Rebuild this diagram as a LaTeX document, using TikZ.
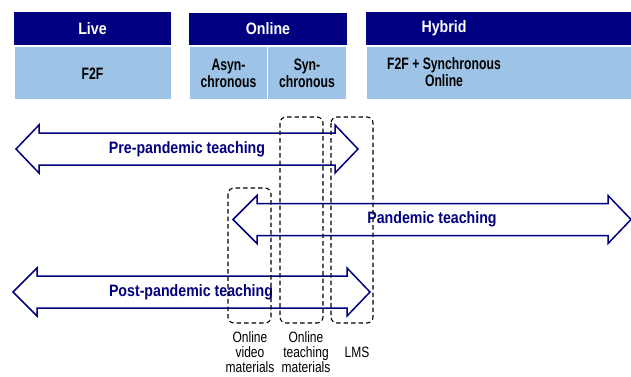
\documentclass[tikz,border=0pt]{standalone}
\usepackage{fontspec}
\setmainfont{Liberation Sans}
\newfontfamily\hfont[FakeStretch=0.86]{Liberation Sans}
\newfontfamily\bfont[FakeStretch=0.74]{Liberation Sans}
\newfontfamily\lfont[FakeStretch=0.8]{Liberation Sans}
\begin{document}
\begin{tikzpicture}[x=1pt,y=-1pt,
  hdr/.style={fill=navyc,draw=none},
  bodybox/.style={fill=lightb,draw=white,line width=0.8pt},
  hdrtext/.style={text=white,font=\hfont\fontsize{16.5}{18}\selectfont\bfseries,inner sep=0pt},
  bodytext/.style={text=black,font=\bfont\fontsize{16.5}{17}\selectfont\bfseries,align=center,inner sep=0pt},
  arrowline/.style={draw=navyc,fill=white,line width=1.5pt,line join=miter},
  arrowtext/.style={text=navyc,font=\hfont\fontsize{16.5}{18}\selectfont\bfseries,inner sep=0pt},
  dashbox/.style={draw=black,line width=1.1pt,dash pattern=on 4.5pt off 3pt,rounded corners=6pt},
  lbl/.style={font=\lfont\fontsize{15}{15}\selectfont,align=center,inner sep=0pt,anchor=north}
]
\definecolor{navyc}{RGB}{0,0,128}
\definecolor{lightb}{RGB}{157,195,230}
\useasboundingbox (0,0) rectangle (631,376);
% headers
\fill[hdr] (14,12) rectangle (171,45);
\node[hdrtext] (live) at (92.5,28.5) {Live};
\fill[hdr] (189,13) rectangle (347,45);
\node[hdrtext] (online) at (268,28.5) {Online};
\fill[hdr] (366,12) rectangle (631,45);
\node[hdrtext] (hybrid) at (444,28.5) {Hybrid};
% bodies
\draw[bodybox] (14,46.5) rectangle (171,99.5);
\node[bodytext] (f2f) at (92.5,74) {F2F};
\draw[bodybox] (189.5,46.5) rectangle (267.5,99.5);
\node[bodytext] (async) at (228.5,73) {Asyn-\\chronous};
\draw[bodybox] (267.5,46.5) rectangle (346.5,99.5);
\node[bodytext] (sync) at (307,73) {Syn-\\chronous};
\draw[bodybox] (366.5,46.5) rectangle (632,99.5);
\node[bodytext] (hyb) at (444,72) {F2F + Synchronous\\Online};
% arrows
\newcommand{\dblarr}[5]{%
  \draw[arrowline] (#1,#5) -- (#3,#5-24) -- (#3,#5-16) -- (#4,#5-16) -- (#4,#5-24)
    -- (#2,#5) -- (#4,#5+24) -- (#4,#5+16) -- (#3,#5+16) -- (#3,#5+24) -- cycle;}
\dblarr{16}{358}{39}{335}{149}
\node[arrowtext] (pre) at (187,149) {Pre-pandemic teaching};
\dblarr{233}{631}{257}{608}{219.5}
\node[arrowtext] (pan) at (432,219) {Pandemic teaching};
\dblarr{13}{370}{37}{347}{292}
\node[arrowtext] (post) at (191,292) {Post-pandemic teaching};
% dashed boxes
\draw[dashbox] (228,188) rectangle (271,323);
\draw[dashbox] (280,117) rectangle (323,323);
\draw[dashbox] (331,117) rectangle (373,323);
\node[lbl] (l1) at (250,331) {Online\\video\\materials};
\node[lbl] (l2) at (306,331) {Online\\teaching\\materials};
\node[lbl] (l3) at (357,347) {LMS};
\end{tikzpicture}
\end{document}
